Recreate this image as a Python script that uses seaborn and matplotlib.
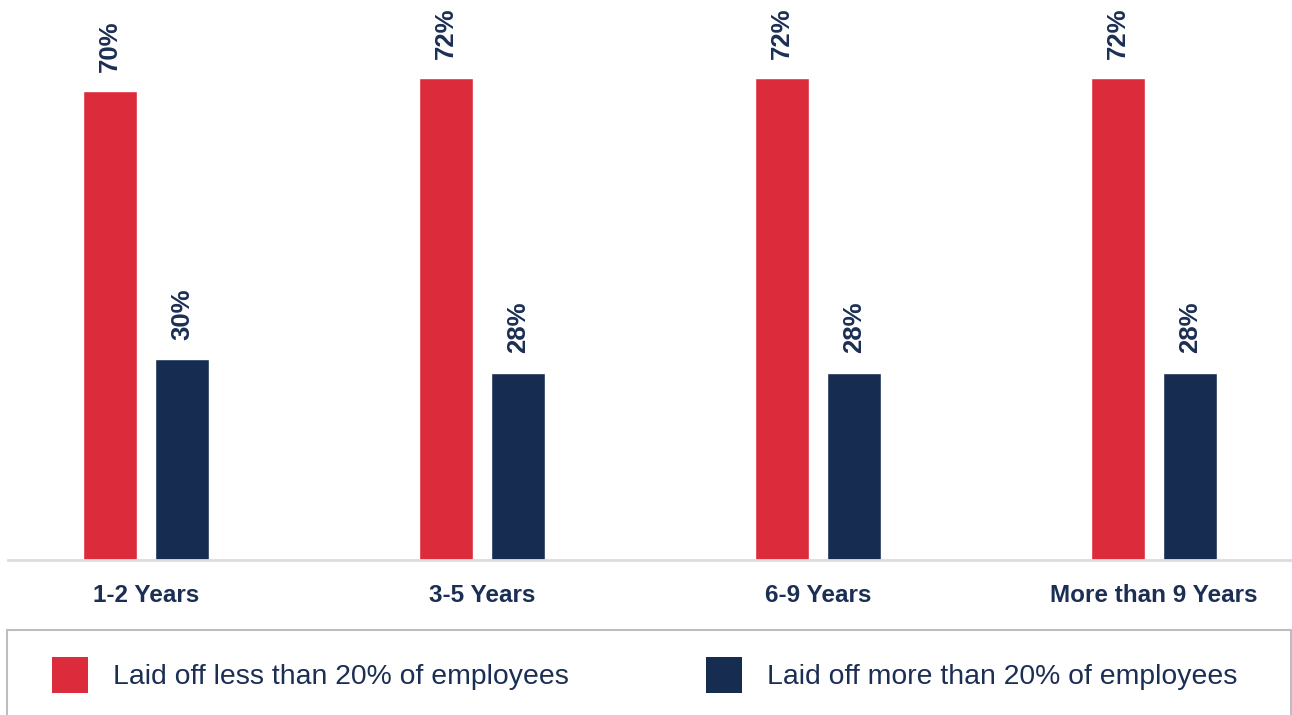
import pandas as pd
import matplotlib.pyplot as plt
import seaborn as sns
from matplotlib.patches import Patch, Rectangle

# Chart data
groups = ["1-2 Years", "3-5 Years", "6-9 Years", "More than 9 Years"]
less_than_20 = [70, 72, 72, 72]
more_than_20 = [30, 28, 28, 28]
series_names = ["Laid off less than 20% of employees", "Laid off more than 20% of employees"]
colors = ["#dc2b3b", "#172c51"]
text_color = "#1b2e54"

df = pd.DataFrame({
    "Group": groups * 2,
    "Value": less_than_20 + more_than_20,
    "Series": [series_names[0]] * len(groups) + [series_names[1]] * len(groups),
})

sns.set_style("white")
plt.rcParams["font.family"] = ["Liberation Sans", "DejaVu Sans"]

fig = plt.figure(figsize=(12.92, 7.15), dpi=100)
ax = fig.add_axes([8 / 1292, 1 - 560 / 715, 1284 / 1292, 560 / 715])

sns.barplot(data=df, x="Group", y="Value", hue="Series", palette=colors,
            width=0.43, gap=0.25, legend=False, ax=ax, saturation=1)

# Value labels, rotated above the bars
for cont in ax.containers:
    ax.bar_label(cont, labels=[f"{v:.0f}%" for v in cont.datavalues],
                 rotation=90, padding=14, fontsize=18.5, fontweight="bold",
                 color=text_color)

ax.set_ylim(0, 83.65)
ax.set_xlim(-0.411, 3.411)
ax.set_xlabel("")
ax.set_ylabel("")
ax.set_yticks([])
ax.tick_params(axis="x", length=0, pad=17, labelsize=17.5, labelcolor=text_color)
for lbl in ax.get_xticklabels():
    lbl.set_fontweight("bold")
for s in ["top", "left", "right"]:
    ax.spines[s].set_visible(False)
ax.spines["bottom"].set_color("#dcdcdc")
ax.spines["bottom"].set_linewidth(2)

# Legend below the chart, inside a gray box
fig.patches.append(Rectangle((7 / 1292, -0.05), 1284 / 1292, 1 - 630 / 715 + 0.05,
                             transform=fig.transFigure, fill=False,
                             edgecolor="#bdbdbd", linewidth=1.5))
handles = [Patch(facecolor=c, edgecolor="none") for c in colors]
fig.legend(handles, series_names, loc="center left", ncol=2, frameon=False,
           bbox_to_anchor=(52 / 1292, 1 - 675 / 715), fontsize=20.4,
           handlelength=1.27, handleheight=1.55, handletextpad=0.88,
           columnspacing=4.85, labelcolor=text_color, borderpad=0, borderaxespad=0)

plt.savefig("out.png", dpi=100)
plt.close()
